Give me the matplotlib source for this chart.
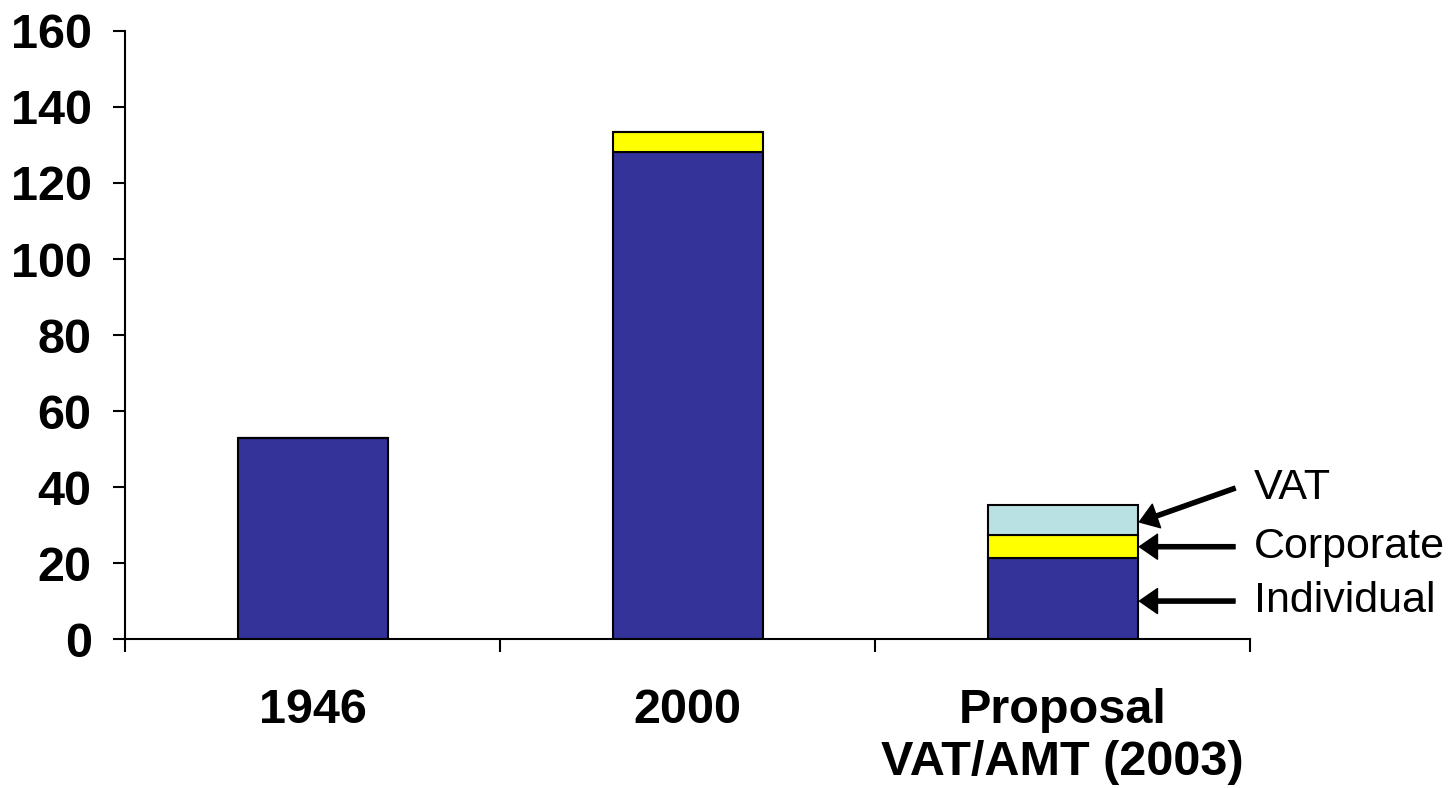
import matplotlib
matplotlib.use("Agg")
import matplotlib.pyplot as plt
import numpy as np

plt.rcParams["font.family"] = ["Liberation Sans", "DejaVu Sans"]

categories = ["1946", "2000", "Proposal\nVAT/AMT (2003)"]
individual = [53.0, 128.2, 21.3]
corporate = [0.0, 5.2, 6.1]
vat = [0.0, 0.0, 7.9]
notes = ["VAT", "Corporate", "Individual"]
note_targets = [30.8, 24.3, 10.0]
note_text_y = [39.7, 24.3, 10.0]

BLUE = "#333399"
YELLOW = "#FFFF00"
LIGHT = "#B9E1E3"

fig = plt.figure(figsize=(14.49, 7.88), dpi=100)
ax = fig.add_axes([0.0863, 0.189, 0.7764, 0.7717])

x = np.arange(len(categories))
w = 0.4
ax.bar(x, individual, w, color=BLUE, edgecolor="black", linewidth=1.5, zorder=2)
ax.bar(x, corporate, w, bottom=individual, color=YELLOW, edgecolor="black",
       linewidth=1.5, zorder=2)
bottom2 = [a + b for a, b in zip(individual, corporate)]
ax.bar(x, vat, w, bottom=bottom2, color=LIGHT, edgecolor="black",
       linewidth=1.5, zorder=2)

ax.set_xlim(-0.5, 2.5)
ax.set_ylim(0, 160)
ax.set_yticks(range(0, 161, 20))
ax.tick_params(axis="y", direction="out", length=9, width=1.5, pad=15,
               labelsize=35)
for lab in ax.get_yticklabels():
    lab.set_fontweight("bold")

ax.set_xticks(x)
ax.set_xticklabels(categories, fontsize=35, fontweight="bold")
ax.tick_params(axis="x", which="major", length=0, pad=35)
ax.set_xticks(np.arange(-0.5, 2.6, 1.0), minor=True)
ax.tick_params(axis="x", which="minor", direction="out", length=9, width=1.5)

for s in ["top", "right"]:
    ax.spines[s].set_visible(False)
for s in ["left", "bottom"]:
    ax.spines[s].set_linewidth(1.5)

# arrows pointing at the segments of the proposal bar
for label, ty, yy in zip(notes, note_targets, note_text_y):
    ax.annotate("", xy=(2.205, ty), xytext=(2.46, yy),
                arrowprops=dict(facecolor="black", edgecolor="black", width=3,
                                headwidth=18, headlength=13, shrink=0),
                annotation_clip=False)
    ax.text(2.51, yy, label, fontsize=31, va="center", ha="left")

fig.savefig("out.png", dpi=100)
